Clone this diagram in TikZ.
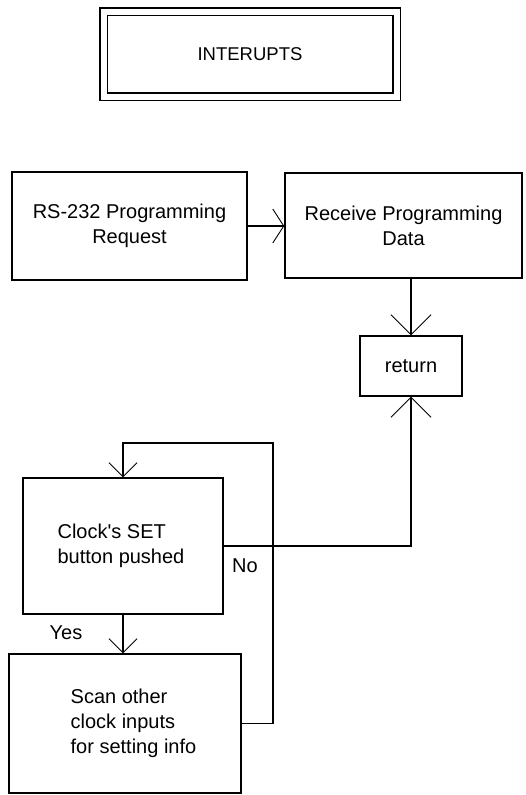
\documentclass[tikz,border=0pt]{standalone}
\usepackage{fontspec}
\setmainfont{Liberation Sans}
\usetikzlibrary{arrows.meta}
\tikzset{
  box/.style={draw=black, line width=1.4pt, inner sep=0pt, align=center,
    font=\fontsize{20}{25}\selectfont},
  titlebox/.style={draw=black, line width=1.4pt, double=white, double distance=6pt,
    inner sep=0pt, font=\fontsize{18.5}{22}\selectfont},
  lbl/.style={inner sep=0pt, font=\fontsize{20}{25}\selectfont},
  conn/.style={line width=1.4pt},
  tipwide/.style={-{Straight Barb[length=11pt,width=34pt,line width=0.9pt]}},
  tipbig/.style={-{Straight Barb[length=20pt,width=40pt,line width=0.9pt]}},
  tipsmall/.style={-{Straight Barb[length=14pt,width=28pt,line width=0.9pt]}}
}
\begin{document}
\begin{tikzpicture}[x=1pt,y=-1pt]
  \useasboundingbox (0,0) rectangle (525,795);
  \fill[white] (0,0) rectangle (525,795);

  % heading
  \node[titlebox, minimum width=293pt, minimum height=85pt] (title) at (250,54) {INTERUPTS};

  % process boxes
  \node[box, minimum width=235pt, minimum height=108pt] (rs) at (129.5,226)
    {RS-232 Programming\\Request};
  \node[box, minimum width=237pt, minimum height=105pt] (recv) at (403.5,225.5)
    {Receive Programming\\Data};
  \node[box, minimum width=102pt, minimum height=60pt] (ret) at (411,366) {return};
  \node[box, minimum width=200pt, minimum height=136pt] (clock) at (123,546)
    {\hspace*{-4pt}\begin{tabular}{@{}l@{}}Clock\textquotesingle s SET\\button pushed\end{tabular}};
  \node[box, minimum width=232pt, minimum height=139pt] (scan) at (125,723.5)
    {\hspace*{17pt}\begin{tabular}{@{}l@{}}Scan other\\clock inputs\\for setting info\end{tabular}};

  % branch labels
  \node[lbl] (yes) at (66,633) {Yes};
  \node[lbl] (no) at (245,566) {No};

  % connectors
  \coordinate (lp) at (273,443);
  \draw[conn, tipwide] (rs.east) -- (rs.east -| recv.west);
  \draw[conn, tipbig] (recv.south -| ret.north) -- (ret.north);
  \draw[conn, tipbig] (clock.east) -| (ret.south);
  \draw[conn, tipsmall] (clock.south) -- (clock.south |- scan.north);
  \draw[conn, tipsmall] (scan.east) -| (lp) -| (clock.north);
\end{tikzpicture}
\end{document}
